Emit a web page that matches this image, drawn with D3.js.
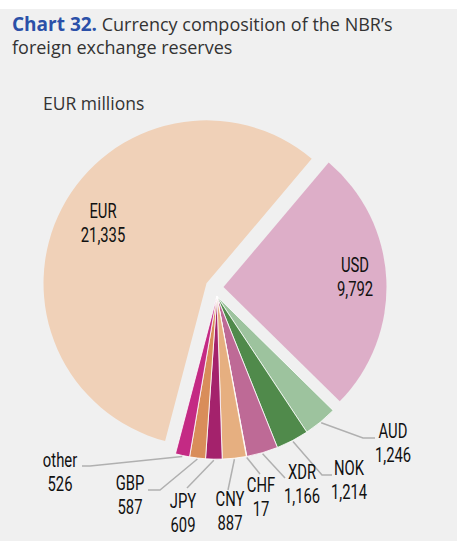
<!DOCTYPE html>
<html>
<head>
<meta charset="utf-8">
<script src="https://cdnjs.cloudflare.com/ajax/libs/d3/7.8.5/d3.min.js"></script>
<style>
  body { margin: 0; background: #fff; }
  svg { display: block; }
  .title { font-family: 'Open Sans', 'Noto Sans', sans-serif; font-size: 18px; fill: #333; }
  .lbl { font-family: Roboto, 'Liberation Sans', sans-serif; font-size: 19.5px; fill: #111; }
</style>
</head>
<body>
<svg id="chart"></svg>
<script>
// Currency composition, EUR millions (clockwise from the USD slice)
const currencies = ['USD', 'AUD', 'NOK', 'XDR', 'CHF', 'CNY', 'JPY', 'GBP', 'other', 'EUR'];
const amounts = [9792, 1246, 1214, 1166, 17, 887, 609, 587, 526, 21335];
const colors = ['#ddaec8', '#9dc39e', '#508a4b', '#be6a96', '#eec4a4', '#e6af80', '#a4226c', '#d98d5a', '#c42a84', '#f0d1b8'];

// slices pulled out on their own, the rest move out together
const detached = ['USD', 'EUR'];

// label placement (layout only)
const inside = {
    EUR: { x: 103, y: 218 },
    USD: { x: 355, y: 272 }
};
const outside = {
    AUD:   { x: 393, y: 438, pts: [[363, 438], [375, 438]] },
    NOK:   { x: 349, y: 475, pts: [[322, 475], [332, 475]] },
    XDR:   { x: 302, y: 479, pts: [[285, 478]] },
    CHF:   { x: 261, y: 492, pts: [[260, 474]] },
    CNY:   { x: 230, y: 506, pts: [[228, 490]] },
    JPY:   { x: 183, y: 508, pts: [[187, 488]] },
    GBP:   { x: 130, y: 490, pts: [[160, 490], [148, 490]] },
    other: { x: 60,  y: 467, pts: [[90, 466], [82, 466]] }
};

const width = 458, height = 541;
const cx = 214.5, cy = 287.5, radius = 163, explode = 9;
const squeeze = 0.76;
const fmt = d3.format(',');

const svg = d3.select('#chart').attr('width', width).attr('height', height);

svg.append('rect')
    .attr('x', 0).attr('y', 9)
    .attr('width', width - 1).attr('height', height - 9)
    .attr('fill', '#f0f0f0');

// Title
const t1 = svg.append('text').attr('class', 'title').attr('x', 12).attr('y', 31);
t1.append('tspan').style('font-weight', 'bold').style('fill', '#2b50a8').style('font-size', '19px').text('Chart 32.');
t1.append('tspan').text(' Currency composition of the NBR\u2019s');
svg.append('text').attr('class', 'title').attr('x', 12).attr('y', 54).text('foreign exchange reserves');
svg.append('text').attr('class', 'title').attr('x', 43).attr('y', 110).style('font-size', '17.5px').text('EUR millions');

const rows = currencies.map((c, i) => ({ name: c, value: amounts[i], color: colors[i] }));

const start = 40.2 * Math.PI / 180;
const pie = d3.pie().sort(null).value(d => d.value)
    .startAngle(start).endAngle(start + 2 * Math.PI);
const arcs = pie(rows);

const arc = d3.arc().innerRadius(0).outerRadius(radius);

// angle of the group of small slices
const rest = arcs.filter(a => !detached.includes(a.data.name));
const restMid = (d3.min(rest, a => a.startAngle) + d3.max(rest, a => a.endAngle)) / 2;

function offset(a) {
    const ang = detached.includes(a.data.name) ? (a.startAngle + a.endAngle) / 2 : restMid;
    return [Math.sin(ang) * explode, -Math.cos(ang) * explode];
}

const g = svg.append('g').attr('transform', `translate(${cx},${cy})`);

g.selectAll('path.slice')
    .data(arcs)
    .join('path')
    .attr('class', 'slice')
    .attr('transform', d => `translate(${offset(d)})`)
    .attr('d', arc)
    .attr('fill', d => d.data.color)
    .attr('stroke', '#fff')
    .attr('stroke-width', d => detached.includes(d.data.name) ? 0 : 0.8);

// two-line condensed label centred on x
function label(p, a) {
    const lg = svg.append('g').attr('transform', `translate(${p.x},${p.y}) scale(${squeeze},1)`);
    lg.append('text').attr('class', 'lbl').attr('text-anchor', 'middle').text(a.data.name);
    lg.append('text').attr('class', 'lbl').attr('text-anchor', 'middle').attr('y', 24).text(fmt(a.data.value));
}

arcs.filter(a => inside[a.data.name]).forEach(a => label(inside[a.data.name], a));

// leader lines for the small slices
arcs.filter(a => outside[a.data.name]).forEach(a => {
    const p = outside[a.data.name];
    const off = offset(a);
    const mid = (a.startAngle + a.endAngle) / 2;
    const s = [cx + off[0] + Math.sin(mid) * (radius + 1), cy + off[1] - Math.cos(mid) * (radius + 1)];
    svg.append('path')
        .attr('d', d3.line()([s].concat(p.pts)))
        .attr('fill', 'none')
        .attr('stroke', '#b0b0b0')
        .attr('stroke-width', 1.5);
    label(p, a);
});
</script>
</body>
</html>
